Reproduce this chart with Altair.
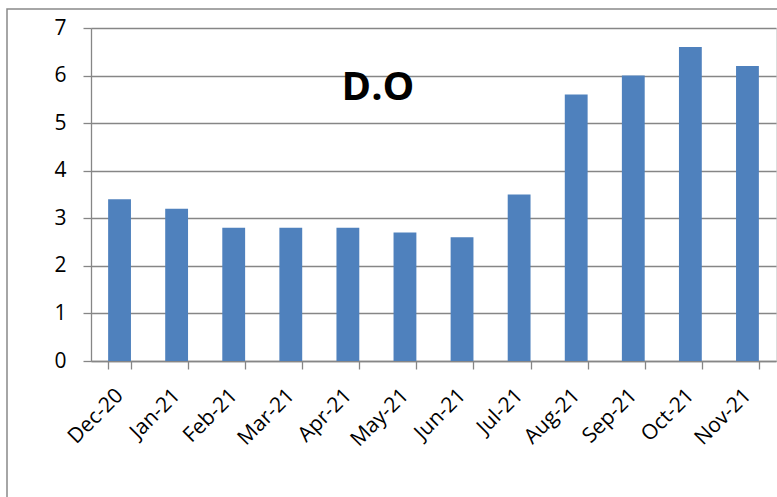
import altair as alt
import pandas as pd

months = ["Dec-20", "Jan-21", "Feb-21", "Mar-21", "Apr-21", "May-21",
          "Jun-21", "Jul-21", "Aug-21", "Sep-21", "Oct-21", "Nov-21"]
values = [3.4, 3.2, 2.8, 2.8, 2.8, 2.7, 2.6, 3.5, 5.6, 6.0, 6.6, 6.2]
title_text = ["D.O"]

df = pd.DataFrame({"month": months, "value": values})
FONT = "Open Sans"
GRID = "#868686"

x_enc = alt.X("month:N", sort=months, title=None,
              scale=alt.Scale(paddingInner=0.6, paddingOuter=0.3),
              axis=alt.Axis(labelAngle=-45, labelAlign="right", labelBaseline="middle",
                            labelFontSize=21, labelFont=FONT, labelColor="#000000",
                            labelPadding=23, tickBand="extent", tickSize=8,
                            tickColor=GRID, domainColor=GRID, domainWidth=1.3,
                            tickWidth=1.3, grid=False))
y_enc = alt.Y("value:Q", title=None,
              scale=alt.Scale(domain=[0, 7], nice=False),
              axis=alt.Axis(values=[0, 1, 2, 3, 4, 5, 6, 7], labelFontSize=21,
                            labelFont=FONT, labelColor="#000000", labelPadding=17,
                            tickSize=8, tickColor=GRID, domainColor=GRID,
                            domainWidth=1.3, tickWidth=1.3,
                            gridColor=GRID, gridWidth=1.3))

bars = alt.Chart(df).mark_bar(color="#4F81BD").encode(x=x_enc, y=y_enc)

title = alt.Chart(pd.DataFrame({"t": title_text})).mark_text(
    font=FONT, fontSize=40, fontWeight="bold", color="#000000",
    align="center", baseline="middle"
).encode(text="t:N", x=alt.value(287), y=alt.value(60))

border = alt.Chart(pd.DataFrame({"t": title_text})).mark_rect(
    fill=None, stroke="#898989", strokeWidth=1.5
).encode(x=alt.value(-84), x2=alt.value(720), y=alt.value(-19), y2=alt.value(520))

chart = alt.layer(border, bars, title).properties(
    width=685, height=333,
    autosize=alt.AutoSizeParams(type="none"),
    padding={"left": 91, "top": 28, "right": 1, "bottom": 136},
).configure_view(stroke=None).configure(background="white")

chart.save("out.html", embed_options={"renderer": "svg", "actions": False})
